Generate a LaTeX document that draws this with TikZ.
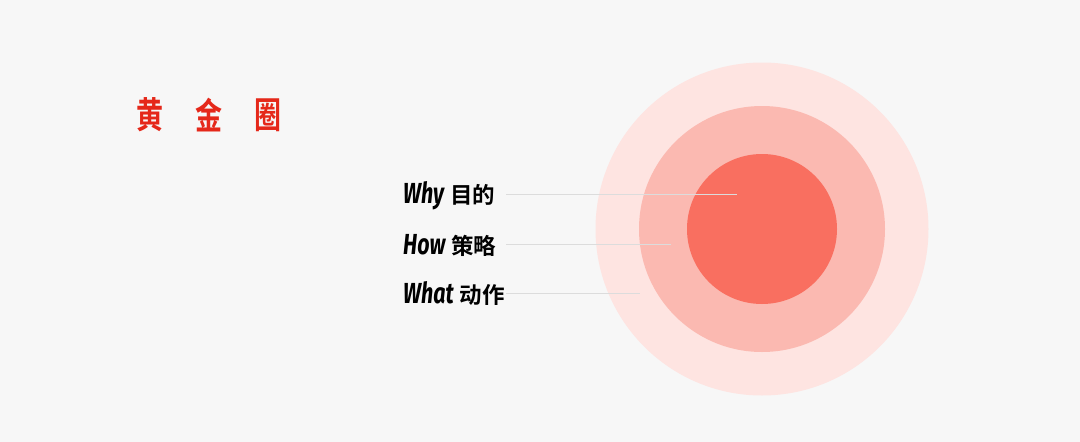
\documentclass[tikz,border=0pt]{standalone}
\usepackage{fontspec}
\newfontfamily\cjkfont{Noto Sans CJK SC}[BoldFont={* Bold}]
\newfontfamily\latinfont{Fira Sans}
\definecolor{bgc}{HTML}{F7F7F7}
\definecolor{ringa}{HTML}{FEE4E1}
\definecolor{ringb}{HTML}{FBB9B1}
\definecolor{ringc}{HTML}{F96F60}
\definecolor{titlered}{HTML}{E5281A}
\definecolor{linec}{HTML}{DCDCDC}
\tikzset{
  ttl/.style={inner sep=0, text=titlered, font=\cjkfont\bfseries\fontsize{27}{27}\selectfont, yscale=1.35},
  lbl/.style={inner sep=0, anchor=base west, text=black},
  leader/.style={draw=linec, line width=0.8pt},
}
\newcommand{\lab}[2]{{\fontsize{29}{29}\selectfont\latinfont\bfseries\itshape\scalebox{0.74}[1]{#1}}\hspace{6pt}{\cjkfont\bfseries\fontsize{22.5}{22.5}\selectfont\raisebox{-0.5pt}{#2}}}
\begin{document}
\begin{tikzpicture}[x=1pt,y=-1pt]
\fill[bgc] (0,0) rectangle (1080,442);
\useasboundingbox (0,0) rectangle (1080,442);
% circles
\fill[ringa] (762,229) circle[radius=166.5];
\fill[ringb] (762,229) circle[radius=123];
\fill[ringc] (762,229) circle[radius=75];
% title
\node[ttl] (t1) at (150,115) {黄};
\node[ttl] (t2) at (209,115) {金};
\node[ttl] (t3) at (268,115) {圈};
% labels
\node[lbl] (why) at (403,203) {\lab{Why}{目的}};
\node[lbl] (how) at (403,254) {\lab{How}{策略}};
\node[lbl] (what) at (403,303) {\lab{What}{动作}};
\coordinate (whyS) at (506,194);
\coordinate (whyE) at (737,194);
\coordinate (howS) at (506,244);
\coordinate (howE) at (671,244);
\coordinate (whatS) at (506,293);
\coordinate (whatE) at (640,293);
\draw[leader] (whyS) -- (whyE);
\draw[leader] (howS) -- (howE);
\draw[leader] (whatS) -- (whatE);
\end{tikzpicture}
\end{document}
